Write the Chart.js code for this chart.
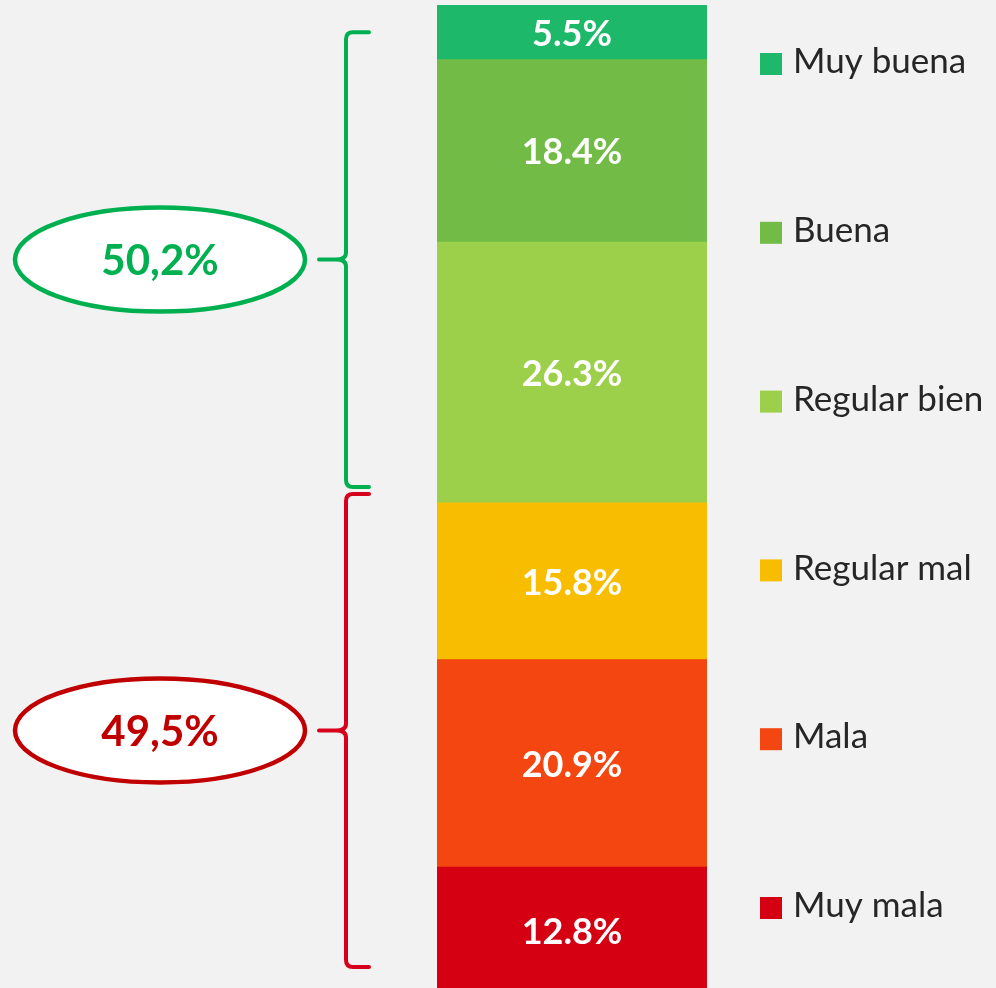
<!DOCTYPE html>
<html>
<head>
<meta charset="utf-8">
<script src="https://cdn.jsdelivr.net/npm/chart.js@4"></script>
<style>
  html, body { margin: 0; padding: 0; background: #f2f2f2; }
</style>
</head>
<body>
<canvas id="myChart" width="996" height="988"></canvas>
<script>
// stacked from the bottom up
var categories = ['Muy mala', 'Mala', 'Regular mal', 'Regular bien', 'Buena', 'Muy buena'];
var values = [12.8, 20.9, 15.8, 26.3, 18.4, 5.5];
var colors = ['#d50012', '#f44611', '#f9bd00', '#9ccf4a', '#72bb46', '#1db86a'];

// the two groups marked by the braces (index ranges into the arrays above)
var groupLabels = ['49,5%', '50,2%'];
var groupFirst = [0, 3];
var groupLast = [2, 5];
var groupColors = ['#d6001c', '#00b050'];
var groupTextColors = ['#c00000', '#00b050'];

var FONT = 'Lato, "Open Sans", sans-serif';

var total = values.reduce(function (a, b) { return a + b; }, 0);

var datasets = categories.map(function (name, i) {
  return {
    label: name,
    data: [values[i]],
    backgroundColor: colors[i],
    borderWidth: 0,
    categoryPercentage: 1,
    barPercentage: 1
  };
});

// white % labels in the middle of each segment
var segmentLabels = {
  id: 'segmentLabels',
  afterDatasetsDraw: function (chart) {
    var ctx = chart.ctx;
    ctx.save();
    ctx.fillStyle = '#ffffff';
    ctx.font = 'bold 36px ' + FONT;
    ctx.textAlign = 'center';
    ctx.textBaseline = 'middle';
    chart.data.datasets.forEach(function (ds, i) {
      var bar = chart.getDatasetMeta(i).data[0];
      var yMid = (bar.y + bar.base) / 2;
      ctx.fillText(ds.data[0].toFixed(1) + '%', bar.x, yMid + 2);
    });
    ctx.restore();
  }
};

// legend on the right, top item first
var sideLegend = {
  id: 'sideLegend',
  afterDraw: function (chart) {
    var ctx = chart.ctx;
    var area = chart.chartArea;
    var x = area.right + 53;
    var step = 168.8;
    ctx.save();
    ctx.font = '35px ' + FONT;
    ctx.textBaseline = 'middle';
    ctx.textAlign = 'left';
    for (var k = 0; k < categories.length; k++) {
      var i = categories.length - 1 - k;
      var y = 64 + k * step;
      ctx.fillStyle = colors[i];
      ctx.fillRect(x, y - 11, 22, 22);
      ctx.fillStyle = '#262626';
      ctx.fillText(categories[i], x + 33, y - 2);
    }
    ctx.restore();
  }
};

// braces and ellipses on the left
var groupBraces = {
  id: 'groupBraces',
  afterDraw: function (chart) {
    var ctx = chart.ctx;
    var ys = chart.scales.y;
    var area = chart.chartArea;
    var xLine = area.left - 91, xHook = area.left - 68, xTip = area.left - 118;
    ctx.save();
    ctx.lineCap = 'round';
    ctx.lineJoin = 'round';
    for (var g = 0; g < groupLabels.length; g++) {
      var below = 0;
      for (var j = 0; j < groupFirst[g]; j++) below += values[j];
      var upper = below;
      for (var j2 = groupFirst[g]; j2 <= groupLast[g]; j2++) upper += values[j2];
      var top, bottom;
      if (g === groupLabels.length - 1) {
        top = ys.getPixelForValue(upper - values[groupLast[g]] / 2);
        bottom = ys.getPixelForValue(below) - 16;
      } else {
        top = ys.getPixelForValue(upper) - 9;
        bottom = area.bottom - 21;
      }
      var mid = (top + bottom) / 2;
      var r = 7;
      ctx.lineWidth = 4;
      ctx.strokeStyle = groupColors[g];
      ctx.beginPath();
      ctx.moveTo(xHook, top);
      ctx.lineTo(xLine + r, top);
      ctx.quadraticCurveTo(xLine, top, xLine, top + r);
      ctx.lineTo(xLine, mid - r);
      ctx.quadraticCurveTo(xLine, mid, xLine - r - 3, mid);
      ctx.lineTo(xTip, mid);
      ctx.moveTo(xLine - r - 3, mid);
      ctx.quadraticCurveTo(xLine, mid, xLine, mid + r);
      ctx.lineTo(xLine, bottom - r);
      ctx.quadraticCurveTo(xLine, bottom, xLine + r, bottom);
      ctx.lineTo(xHook, bottom);
      ctx.stroke();

      // ellipse with the group total
      var cx = 160;
      ctx.beginPath();
      ctx.ellipse(cx, mid, 145, 52, 0, 0, Math.PI * 2);
      ctx.fillStyle = '#ffffff';
      ctx.fill();
      ctx.lineWidth = 4.5;
      ctx.strokeStyle = groupTextColors[g];
      ctx.stroke();
      ctx.fillStyle = groupTextColors[g];
      ctx.font = 'bold 42px ' + FONT;
      ctx.textAlign = 'center';
      ctx.textBaseline = 'middle';
      ctx.fillText(groupLabels[g], cx, mid + 2);
    }
    ctx.restore();
  }
};

var grapharea = document.getElementById('myChart');

const config = {
  type: 'bar',
  data: {
    labels: [''],
    datasets: datasets
  },
  options: {
    responsive: false,
    devicePixelRatio: 1,
    animation: false,
    layout: { padding: { left: 437, right: 289, top: 5, bottom: 0 } },
    scales: {
      x: { stacked: true, display: false },
      // bottom of the bar runs slightly past the picture edge
      y: { stacked: true, display: false, min: 0.6, max: total }
    },
    plugins: {
      legend: { display: false },
      tooltip: { enabled: false }
    }
  },
  plugins: [segmentLabels, sideLegend, groupBraces]
};

const myChart = new Chart(grapharea, config);
</script>
</body>
</html>
